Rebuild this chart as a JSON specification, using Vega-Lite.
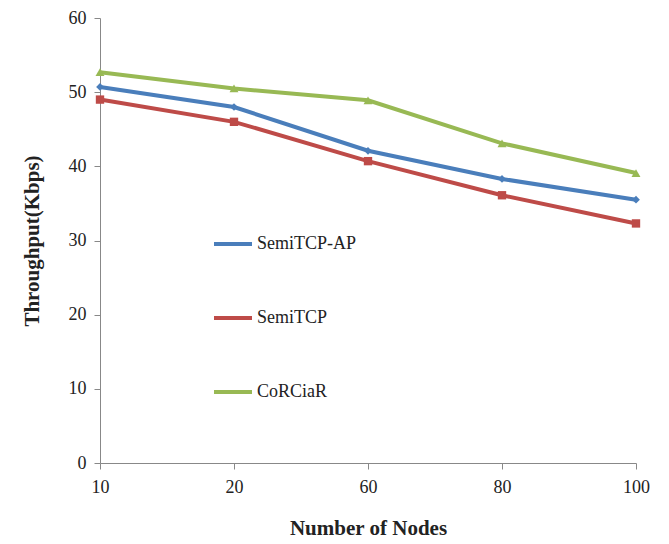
{
  "$schema": "https://vega.github.io/schema/vega-lite/v6.json",
  "autosize": "none",
  "width": 536,
  "height": 445,
  "padding": {"left": 100, "top": 18, "right": 33, "bottom": 81},
  "background": "white",
  "config": {
    "view": {"stroke": null},
    "font": "Liberation Serif",
    "axis": {"labelFont": "Liberation Serif", "titleFont": "Liberation Serif"},
    "legend": {"labelFont": "Liberation Serif"}
  },
  "data": {
    "values": [
      {"nodes": "10", "series": "SemiTCP-AP", "throughput": 50.7},
      {"nodes": "20", "series": "SemiTCP-AP", "throughput": 48.0},
      {"nodes": "60", "series": "SemiTCP-AP", "throughput": 42.1},
      {"nodes": "80", "series": "SemiTCP-AP", "throughput": 38.3},
      {"nodes": "100", "series": "SemiTCP-AP", "throughput": 35.5},
      {"nodes": "10", "series": "SemiTCP", "throughput": 49.0},
      {"nodes": "20", "series": "SemiTCP", "throughput": 46.0},
      {"nodes": "60", "series": "SemiTCP", "throughput": 40.7},
      {"nodes": "80", "series": "SemiTCP", "throughput": 36.1},
      {"nodes": "100", "series": "SemiTCP", "throughput": 32.3},
      {"nodes": "10", "series": "CoRCiaR", "throughput": 52.7},
      {"nodes": "20", "series": "CoRCiaR", "throughput": 50.5},
      {"nodes": "60", "series": "CoRCiaR", "throughput": 48.9},
      {"nodes": "80", "series": "CoRCiaR", "throughput": 43.1},
      {"nodes": "100", "series": "CoRCiaR", "throughput": 39.1}
    ]
  },
  "encoding": {
    "x": {
      "field": "nodes", "type": "ordinal", "sort": ["10", "20", "60", "80", "100"],
      "scale": {"type": "point", "padding": 0},
      "axis": {
        "title": "Number of Nodes", "titleFontSize": 21, "titleFontWeight": "bold",
        "titleColor": "#222", "titlePadding": 21,
        "labelAngle": 0, "labelFontSize": 18, "labelColor": "#222", "labelPadding": 9,
        "domainColor": "#888", "tickColor": "#888", "tickSize": 6, "grid": false
      }
    },
    "y": {
      "field": "throughput", "type": "quantitative",
      "scale": {"domain": [0, 60]},
      "axis": {
        "title": "Throughput(Kbps)", "titleFontSize": 21, "titleFontWeight": "bold",
        "titleColor": "#222", "titlePadding": 26,
        "values": [0, 10, 20, 30, 40, 50, 60], "labelFontSize": 18, "labelColor": "#222",
        "labelPadding": 8, "domainColor": "#888", "tickColor": "#888", "tickSize": 6, "grid": false
      }
    }
  },
  "layer": [
    {
      "mark": {"type": "line", "strokeWidth": 4},
      "encoding": {
        "color": {
          "field": "series", "type": "nominal",
          "sort": ["SemiTCP-AP", "SemiTCP", "CoRCiaR"],
          "scale": {"domain": ["SemiTCP-AP", "SemiTCP", "CoRCiaR"], "range": ["#4A7EBB", "#BE4B48", "#98B954"]},
          "legend": {
            "title": null, "orient": "none", "legendX": 112, "legendY": 205,
            "symbolType": "stroke", "symbolSize": 1444, "symbolStrokeWidth": 4,
            "labelFontSize": 18, "labelColor": "#222", "labelOffset": 3, "rowPadding": 44
          }
        }
      }
    },
    {
      "transform": [{"filter": "datum.series === 'SemiTCP-AP'"}],
      "mark": {"type": "point", "filled": true, "opacity": 1, "size": 60, "shape": "diamond", "color": "#4A7EBB"},
      "encoding": {}
    },
    {
      "transform": [{"filter": "datum.series === 'SemiTCP'"}],
      "mark": {"type": "point", "filled": true, "opacity": 1, "size": 70, "shape": "square", "color": "#BE4B48"},
      "encoding": {}
    },
    {
      "transform": [{"filter": "datum.series === 'CoRCiaR'"}],
      "mark": {"type": "point", "filled": true, "opacity": 1, "size": 80, "shape": "triangle-up", "color": "#98B954"},
      "encoding": {}
    }
  ]
}
